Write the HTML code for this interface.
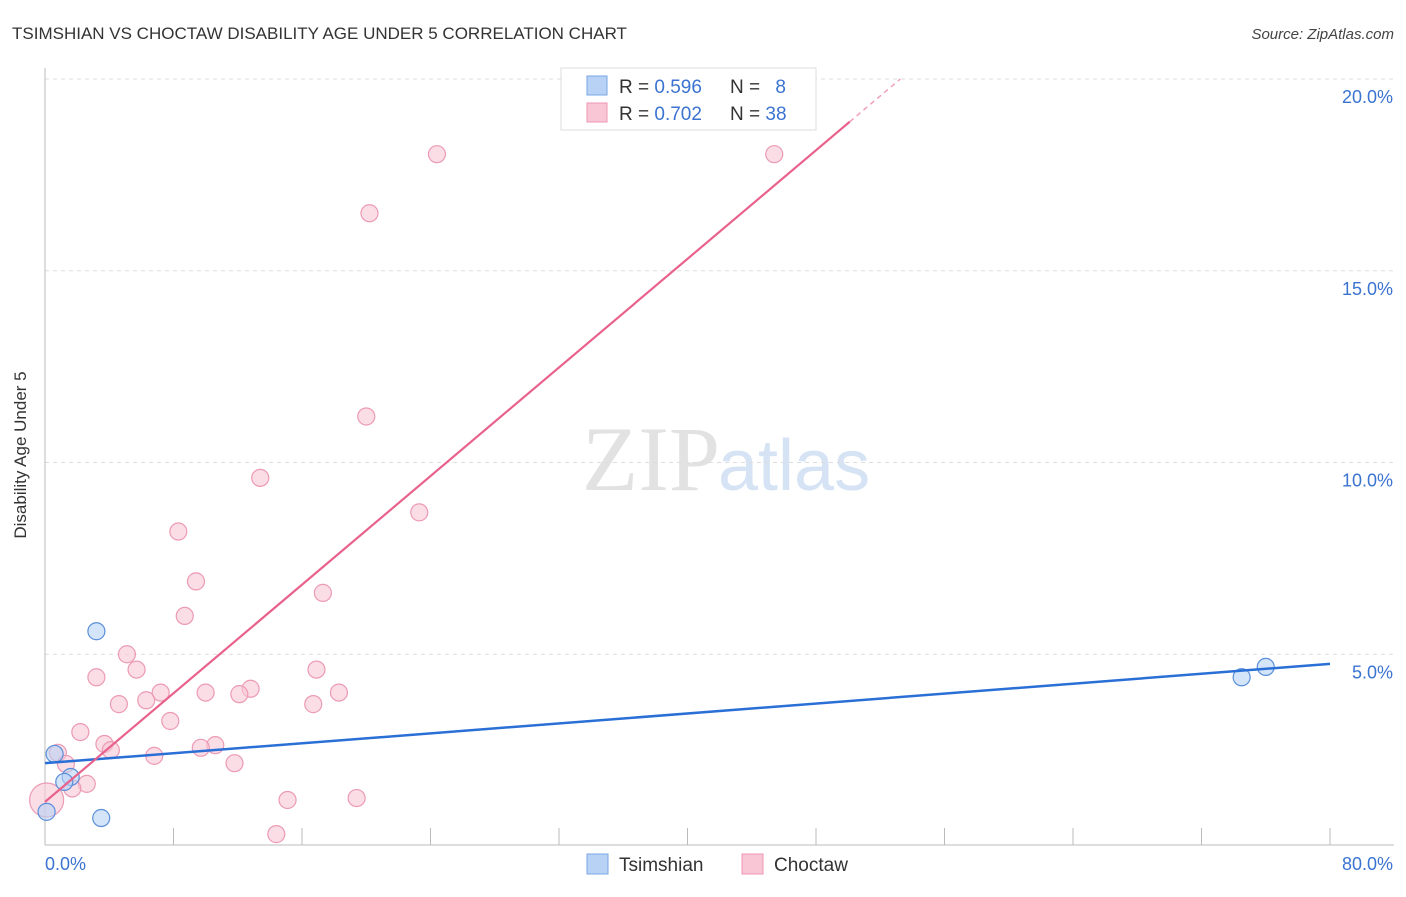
<!DOCTYPE html>
<html><head><meta charset="utf-8"><style>
body{margin:0;background:#fff;font-family:"Liberation Sans",sans-serif;}
</style></head><body>
<svg width="1406" height="892" viewBox="0 0 1406 892" xmlns="http://www.w3.org/2000/svg">
<text x="12" y="39" font-size="17" fill="#333">TSIMSHIAN VS CHOCTAW DISABILITY AGE UNDER 5 CORRELATION CHART</text>
<text x="1394" y="39" font-size="15" fill="#444" font-style="italic" text-anchor="end">Source: ZipAtlas.com</text>
<text x="720" y="490" font-size="92" fill="#e2e2e2" text-anchor="end" font-family="Liberation Serif,serif">ZIP</text>
<text x="718" y="490" font-size="72" fill="#d6e3f5">atlas</text>
<g id="grid"></g>
<line x1="45" y1="68" x2="45" y2="845" stroke="#bbb"/>
<line x1="45" y1="845" x2="1394" y2="845" stroke="#bbb"/>
<g id="ticks"></g>
<text x="26" y="455" font-size="17" fill="#333" text-anchor="middle" transform="rotate(-90 26 455)">Disability Age Under 5</text>
<text x="45" y="870" font-size="18" fill="#3b73d1">0.0%</text>
<text x="1393" y="870" font-size="18" fill="#3b73d1" text-anchor="end">80.0%</text>
<g id="points"></g>
<g id="lines"></g>
<g>
<rect x="561" y="68" width="255" height="62" fill="#fff" stroke="#ddd"/>
<rect x="587" y="76" width="20" height="19" fill="#b8d2f5" stroke="#7aa6e6"/>
<rect x="587" y="103" width="20" height="19" fill="#f9c6d5" stroke="#ef97b3"/>
<text x="619" y="93" font-size="19" fill="#333">R = <tspan fill="#3b73d1">0.596</tspan></text>
<text x="730" y="93" font-size="19" fill="#333">N = <tspan fill="#3b73d1" dx="10">8</tspan></text>
<text x="619" y="120" font-size="19" fill="#333">R = <tspan fill="#3b73d1">0.702</tspan></text>
<text x="730" y="120" font-size="19" fill="#333">N = <tspan fill="#3b73d1">38</tspan></text>
</g>
<g>
<rect x="587" y="854" width="21" height="20" fill="#b8d2f5" stroke="#7aa6e6"/>
<text x="619" y="871" font-size="19" fill="#333">Tsimshian</text>
<rect x="742" y="854" width="21" height="20" fill="#f9c6d5" stroke="#ef97b3"/>
<text x="774" y="871" font-size="19" fill="#333">Choctaw</text>
</g>
</svg>
<script>
const yTicks=[5,10,15,20];
const yTickLabels=["5.0%","10.0%","15.0%","20.0%"];
const xTicks=[0,8,16,24,32,40,48,56,64,72,80];
const choctawX=[24.4,45.4,20.2,20.0,13.4,23.3,8.3,9.4,17.3,8.7,5.1,5.7,3.2,16.9,7.2,10.0,12.8,12.1,18.3,4.6,6.3,16.7,7.8,2.2,3.7,10.6,9.7,4.1,0.8,6.8,1.3,11.8,2.6,1.7,15.1,19.4,14.4,0.1];
const choctawY=[18.04,18.04,16.5,11.2,9.6,8.7,8.2,6.9,6.6,6.0,5.0,4.6,4.4,4.6,4.0,4.0,4.1,3.96,4.0,3.7,3.8,3.7,3.26,2.97,2.66,2.63,2.56,2.5,2.43,2.35,2.14,2.16,1.62,1.5,1.2,1.25,0.31,1.2];
const tsimX=[3.2,0.6,1.6,1.2,3.5,0.1,74.5,76.0];
const tsimY=[5.6,2.4,1.8,1.67,0.73,0.89,4.4,4.67];
const tsimTrend=[2.16,4.75];
const choctawTrend=[1.15,0.354];
const NS="http://www.w3.org/2000/svg";
const xs=v=>45+v/80*1285;
const ys=v=>846-v*38.35;
function mk(t,a,p){const e=document.createElementNS(NS,t);for(const k in a)e.setAttribute(k,a[k]);document.getElementById(p).appendChild(e);return e;}
yTicks.forEach((t,i)=>{
 const l=mk('line',{x1:45,x2:1394,y1:ys(t),y2:ys(t),stroke:'#ddd','stroke-dasharray':'4 4'},'grid');
 
 
 const tx=mk('text',{x:1393,y:ys(t)+24,'font-size':18,fill:'#3b73d1','text-anchor':'end'},'grid');
 tx.textContent=yTickLabels[i];
 
 
});
xTicks.forEach(t=>{
 const l=mk('line',{x1:xs(t),x2:xs(t),y1:828,y2:845,stroke:'#bbb'},'ticks');
 
 
});
choctawX.forEach((x,i)=>{
 const c=mk('circle',{cx:xs(x),cy:ys(choctawY[i]),r:i==choctawX.length-1?17:8.5,fill:'#f9c6d5','fill-opacity':0.6,stroke:'#ec9ab5','stroke-width':1.2},'points');
 
 
});
tsimX.forEach((x,i)=>{
 const c=mk('circle',{cx:xs(x),cy:ys(tsimY[i]),r:8.5,fill:'#b8d2f5','fill-opacity':0.6,stroke:'#5b8fd9','stroke-width':1.2},'points');
 
 
});
const bl=mk('line',{x1:xs(0),y1:ys(tsimTrend[0]),x2:xs(80),y2:ys(tsimTrend[1]),stroke:'#2a6fd6','stroke-width':2.5},'lines');


const xEnd=50.1, xMax=(20-choctawTrend[0])/choctawTrend[1];
const pl=mk('line',{x1:xs(0),y1:ys(choctawTrend[0]),x2:xs(xEnd),y2:ys(choctawTrend[0]+choctawTrend[1]*xEnd),stroke:'#e8628c','stroke-width':2.2},'lines');


const pd=mk('line',{x1:xs(xEnd),y1:ys(choctawTrend[0]+choctawTrend[1]*xEnd),x2:xs(xMax),y2:ys(20),stroke:'#f0a0b8','stroke-width':1.5,'stroke-dasharray':'5 4'},'lines');


</script>
</body></html>
